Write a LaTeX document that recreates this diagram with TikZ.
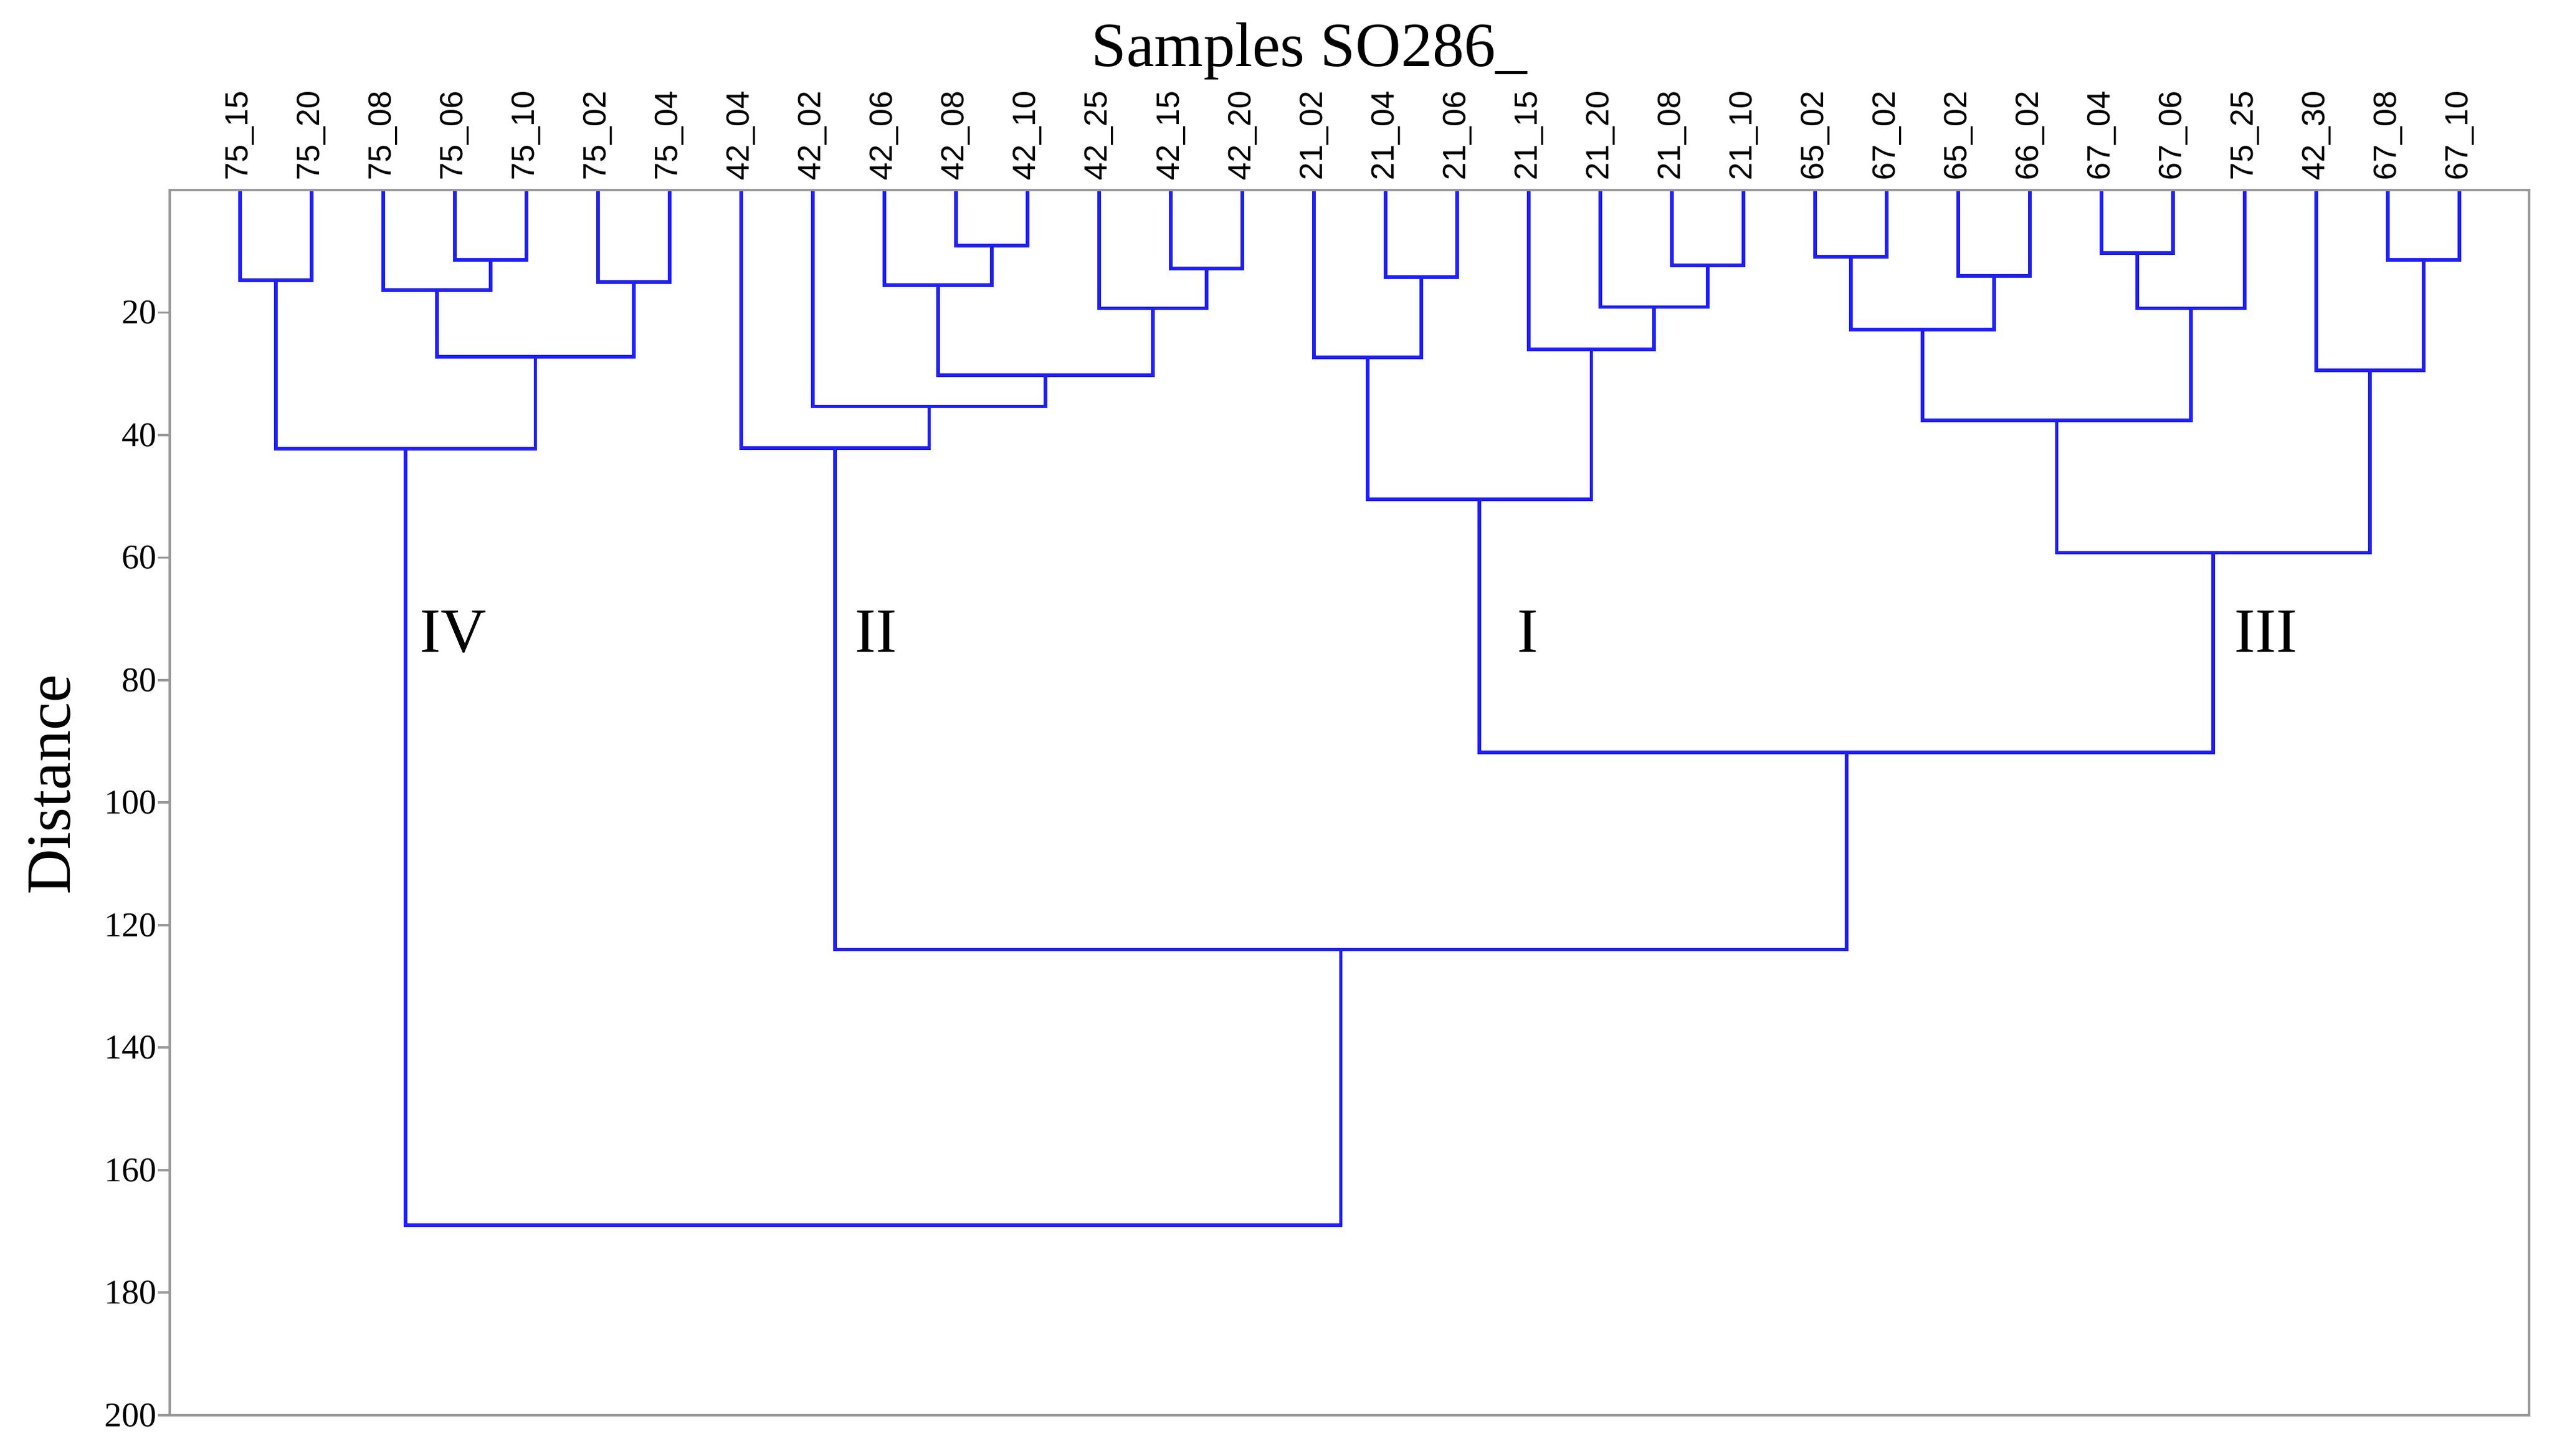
\documentclass[tikz,border=0pt]{standalone}
\usepackage{fontspec}
\setmainfont{Liberation Serif}
\setsansfont{Liberation Sans}
\usetikzlibrary{positioning}
\definecolor{branchblue}{RGB}{30,30,255}

\begin{document}
\begin{tikzpicture}[x=1.16cm,y=-0.09925cm,node distance=1.16cm,on grid,
		leaf/.style={inner sep=0pt,outer sep=0pt,minimum size=0pt},
		leaflabel/.style={rotate=90,anchor=west,inner sep=0pt,font=\sffamily\fontsize{14.8}{18}\selectfont},
		branch/.style={draw=branchblue,line width=1.6pt},
		axisframe/.style={draw=black!40,line width=1.1pt},
		ticklabel/.style={anchor=east,inner sep=0pt,font=\fontsize{16}{19}\selectfont},
		grouplabel/.style={anchor=base west,inner sep=0pt,font=\fontsize{29}{34}\selectfont}]
		\useasboundingbox (-3.3534,-31.033) rectangle (32.2931,206.65);
		% samples along the top
		\node[leaf](s7515) at (0,0) {};
		\node[leaf](s7520)[right=of s7515] {};
		\node[leaf](s7508)[right=of s7520] {};
		\node[leaf](s7506)[right=of s7508] {};
		\node[leaf](s7510)[right=of s7506] {};
		\node[leaf](s7502)[right=of s7510] {};
		\node[leaf](s7504)[right=of s7502] {};
		\node[leaf](s4204)[right=of s7504] {};
		\node[leaf](s4202)[right=of s4204] {};
		\node[leaf](s4206)[right=of s4202] {};
		\node[leaf](s4208)[right=of s4206] {};
		\node[leaf](s4210)[right=of s4208] {};
		\node[leaf](s4225)[right=of s4210] {};
		\node[leaf](s4215)[right=of s4225] {};
		\node[leaf](s4220)[right=of s4215] {};
		\node[leaf](s2102)[right=of s4220] {};
		\node[leaf](s2104)[right=of s2102] {};
		\node[leaf](s2106)[right=of s2104] {};
		\node[leaf](s2115)[right=of s2106] {};
		\node[leaf](s2120)[right=of s2115] {};
		\node[leaf](s2108)[right=of s2120] {};
		\node[leaf](s2110)[right=of s2108] {};
		\node[leaf](s6502)[right=of s2110] {};
		\node[leaf](s6702)[right=of s6502] {};
		\node[leaf](s6502b)[right=of s6702] {};
		\node[leaf](s6602)[right=of s6502b] {};
		\node[leaf](s6704)[right=of s6602] {};
		\node[leaf](s6706)[right=of s6704] {};
		\node[leaf](s7525)[right=of s6706] {};
		\node[leaf](s4230)[right=of s7525] {};
		\node[leaf](s6708)[right=of s4230] {};
		\node[leaf](s6710)[right=of s6708] {};
		% their names
		\node[leaflabel](n7515) at ([yshift=0.15cm]s7515) {75\_15};
		\node[leaflabel](n7520) at ([yshift=0.15cm]s7520) {75\_20};
		\node[leaflabel](n7508) at ([yshift=0.15cm]s7508) {75\_08};
		\node[leaflabel](n7506) at ([yshift=0.15cm]s7506) {75\_06};
		\node[leaflabel](n7510) at ([yshift=0.15cm]s7510) {75\_10};
		\node[leaflabel](n7502) at ([yshift=0.15cm]s7502) {75\_02};
		\node[leaflabel](n7504) at ([yshift=0.15cm]s7504) {75\_04};
		\node[leaflabel](n4204) at ([yshift=0.15cm]s4204) {42\_04};
		\node[leaflabel](n4202) at ([yshift=0.15cm]s4202) {42\_02};
		\node[leaflabel](n4206) at ([yshift=0.15cm]s4206) {42\_06};
		\node[leaflabel](n4208) at ([yshift=0.15cm]s4208) {42\_08};
		\node[leaflabel](n4210) at ([yshift=0.15cm]s4210) {42\_10};
		\node[leaflabel](n4225) at ([yshift=0.15cm]s4225) {42\_25};
		\node[leaflabel](n4215) at ([yshift=0.15cm]s4215) {42\_15};
		\node[leaflabel](n4220) at ([yshift=0.15cm]s4220) {42\_20};
		\node[leaflabel](n2102) at ([yshift=0.15cm]s2102) {21\_02};
		\node[leaflabel](n2104) at ([yshift=0.15cm]s2104) {21\_04};
		\node[leaflabel](n2106) at ([yshift=0.15cm]s2106) {21\_06};
		\node[leaflabel](n2115) at ([yshift=0.15cm]s2115) {21\_15};
		\node[leaflabel](n2120) at ([yshift=0.15cm]s2120) {21\_20};
		\node[leaflabel](n2108) at ([yshift=0.15cm]s2108) {21\_08};
		\node[leaflabel](n2110) at ([yshift=0.15cm]s2110) {21\_10};
		\node[leaflabel](n6502) at ([yshift=0.15cm]s6502) {65\_02};
		\node[leaflabel](n6702) at ([yshift=0.15cm]s6702) {67\_02};
		\node[leaflabel](n6502b) at ([yshift=0.15cm]s6502b) {65\_02};
		\node[leaflabel](n6602) at ([yshift=0.15cm]s6602) {66\_02};
		\node[leaflabel](n6704) at ([yshift=0.15cm]s6704) {67\_04};
		\node[leaflabel](n6706) at ([yshift=0.15cm]s6706) {67\_06};
		\node[leaflabel](n7525) at ([yshift=0.15cm]s7525) {75\_25};
		\node[leaflabel](n4230) at ([yshift=0.15cm]s4230) {42\_30};
		\node[leaflabel](n6708) at ([yshift=0.15cm]s6708) {67\_08};
		\node[leaflabel](n6710) at ([yshift=0.15cm]s6710) {67\_10};
		% joins (x = middle of children, y = distance)
		\coordinate (j1) at (0.5,14.7);
		\coordinate (j2) at (3.5,11.4);
		\coordinate (j3) at (2.75,16.3);
		\coordinate (j4) at (5.5,15.0);
		\coordinate (j5) at (4.125,27.2);
		\coordinate (iv) at (2.3125,42.2);
		\coordinate (j6) at (10.5,9.1);
		\coordinate (j7) at (9.75,15.5);
		\coordinate (j8) at (13.5,12.8);
		\coordinate (j9) at (12.75,19.3);
		\coordinate (j10) at (11.25,30.2);
		\coordinate (j11) at (9.625,35.3);
		\coordinate (ii) at (8.3125,42.1);
		\coordinate (j12) at (16.5,14.2);
		\coordinate (j13) at (15.75,27.3);
		\coordinate (j14) at (20.5,12.3);
		\coordinate (j15) at (19.75,19.1);
		\coordinate (j16) at (18.875,26.0);
		\coordinate (i) at (17.3125,50.5);
		\coordinate (j17) at (22.5,10.9);
		\coordinate (j18) at (24.5,14.0);
		\coordinate (j19) at (23.5,22.8);
		\coordinate (j20) at (26.5,10.3);
		\coordinate (j21) at (27.25,19.3);
		\coordinate (j22) at (25.375,37.6);
		\coordinate (j23) at (30.5,11.4);
		\coordinate (j24) at (29.75,29.4);
		\coordinate (iii) at (27.5625,59.2);
		\coordinate (j25) at (22.4375,91.8);
		\coordinate (j26) at (15.375,124.0);
		\coordinate (root) at (8.84375,169.0);
		\path[branch]
		(s7515) |- (j1) -| (s7520)
		(s7506) |- (j2) -| (s7510)
		(s7508) |- (j3) -| (j2)
		(s7502) |- (j4) -| (s7504)
		(j3) |- (j5) -| (j4)
		(j1) |- (iv) -| (j5)
		(s4208) |- (j6) -| (s4210)
		(s4206) |- (j7) -| (j6)
		(s4215) |- (j8) -| (s4220)
		(s4225) |- (j9) -| (j8)
		(j7) |- (j10) -| (j9)
		(s4202) |- (j11) -| (j10)
		(s4204) |- (ii) -| (j11)
		(s2104) |- (j12) -| (s2106)
		(s2102) |- (j13) -| (j12)
		(s2108) |- (j14) -| (s2110)
		(s2120) |- (j15) -| (j14)
		(s2115) |- (j16) -| (j15)
		(j13) |- (i) -| (j16)
		(s6502) |- (j17) -| (s6702)
		(s6502b) |- (j18) -| (s6602)
		(j17) |- (j19) -| (j18)
		(s6704) |- (j20) -| (s6706)
		(j20) |- (j21) -| (s7525)
		(j19) |- (j22) -| (j21)
		(s6708) |- (j23) -| (s6710)
		(s4230) |- (j24) -| (j23)
		(j22) |- (iii) -| (j24)
		(i) |- (j25) -| (iii)
		(ii) |- (j26) -| (j25)
		(iv) |- (root) -| (j26);
		% frame and distance axis
		\draw[axisframe] (-0.983,0) rectangle (31.974,200);
		\draw[axisframe]
		(-0.983,20) -- (-1.147,20) (-0.983,40) -- (-1.147,40)
		(-0.983,60) -- (-1.147,60) (-0.983,80) -- (-1.147,80)
		(-0.983,100) -- (-1.147,100) (-0.983,120) -- (-1.147,120)
		(-0.983,140) -- (-1.147,140) (-0.983,160) -- (-1.147,160)
		(-0.983,180) -- (-1.147,180) (-0.983,200) -- (-1.147,200);
		\node[ticklabel](t20) at (-1.16,20) {20};
		\node[ticklabel](t40) at (-1.16,40) {40};
		\node[ticklabel](t60) at (-1.16,60) {60};
		\node[ticklabel](t80) at (-1.16,80) {80};
		\node[ticklabel](t100) at (-1.16,100) {100};
		\node[ticklabel](t120) at (-1.16,120) {120};
		\node[ticklabel](t140) at (-1.16,140) {140};
		\node[ticklabel](t160) at (-1.16,160) {160};
		\node[ticklabel](t180) at (-1.16,180) {180};
		\node[ticklabel](t200) at (-1.16,200) {200};
		\node[rotate=90,inner sep=0pt,font=\fontsize{29}{34}\selectfont](dist) at (-2.664,97.1) {Distance};
		\node[anchor=base,inner sep=0pt,font=\fontsize{29}{34}\selectfont](head) at (14.935,-20.25) {Samples SO286\_};
		% cluster names
		\node[grouplabel](giv) at (2.509,75.4) {IV};
		\node[grouplabel](gii) at (8.586,75.4) {II};
		\node[grouplabel](gi) at (17.83,75.4) {I};
		\node[grouplabel](giii) at (27.85,75.4) {III};
\end{tikzpicture}
\end{document}
